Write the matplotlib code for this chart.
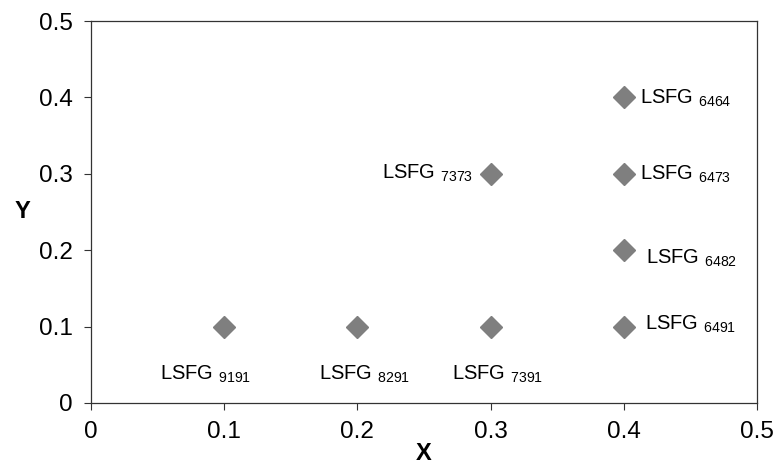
import matplotlib
matplotlib.use('Agg')
import matplotlib.pyplot as plt

plt.rcParams['font.family'] = ['Liberation Sans', 'DejaVu Sans']
plt.rcParams['mathtext.fontset'] = 'custom'
plt.rcParams['mathtext.rm'] = 'Liberation Sans'
plt.rcParams['mathtext.it'] = 'Liberation Sans'

x_vals = [0.1, 0.2, 0.3, 0.3, 0.4, 0.4, 0.4, 0.4]
y_vals = [0.1, 0.1, 0.1, 0.3, 0.4, 0.3, 0.2, 0.1]
codes  = ["9191", "8291", "7391", "7373", "6464", "6473", "6482", "6491"]
ticks  = [0, 0.1, 0.2, 0.3, 0.4, 0.5]
tick_labels = ["0", "0.1", "0.2", "0.3", "0.4", "0.5"]

# label offsets in pixels (dx, dy, ha, va)
offsets = [(-18, -48, 'center', 'center'), (7, -48, 'center', 'center'),
           (7, -48, 'center', 'center'), (-17, 0, 'right', 'center'),
           (16, -1, 'left', 'center'), (16, -1, 'left', 'center'),
           (22, -8, 'left', 'center'), (21, 2, 'left', 'center')]

fig = plt.figure(figsize=(7.76, 4.70), dpi=100)
ax = fig.add_axes([0.117, 0.1426, 0.8585, 0.8127])

ax.plot(x_vals, y_vals, linestyle='none', marker='D', markersize=11,
        color='#7f7f7f', markeredgecolor='#7f7f7f')

for x, y, c, (dx, dy, ha, va) in zip(x_vals, y_vals, codes, offsets):
    ax.annotate("LSFG $_{%s}$" % c, (x, y), xytext=(dx * 0.72, dy * 0.72),
                textcoords='offset points', ha=ha, va=va, fontsize=14.5)

ax.set_xlim(0, 0.5)
ax.set_ylim(0, 0.5)
ax.set_xticks(ticks)
ax.set_xticklabels(tick_labels)
ax.set_yticks(ticks)
ax.set_yticklabels(tick_labels)
ax.tick_params(direction='out', length=5, width=0.8, labelsize=17.5, pad=8,
               color='#333333')
for s in ax.spines.values():
    s.set_linewidth(0.9)
    s.set_color('#333333')

ax.set_xlabel("X", fontsize=17, fontweight='bold', labelpad=-1)
ax.set_ylabel("Y", fontsize=17, fontweight='bold', rotation=0, labelpad=12,
              va='center')

fig.savefig("out.png", dpi=100)
